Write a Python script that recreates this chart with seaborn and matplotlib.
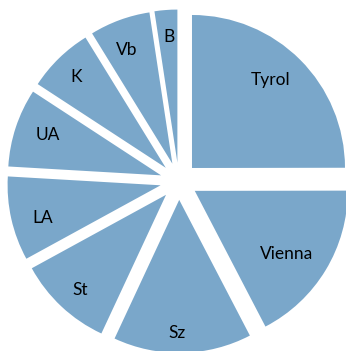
import numpy as np
import matplotlib
matplotlib.use('Agg')
import matplotlib.pyplot as plt
import seaborn as sns

sns.set_theme(style='white')
plt.rcParams['font.family'] = ['Lato', 'DejaVu Sans']

# share per region (percent), clockwise from 12 o'clock
regions = ['Tyrol', 'Vienna', 'Sz', 'St', 'LA', 'UA', 'K', 'Vb', 'B']
shares = [25.0, 17.4, 14.6, 10.1, 8.9, 8.3, 7.0, 6.4, 2.4]

blue = '#7aa7ca'
# label placement inside each slice: fraction of radius, clockwise turn (deg)
label_dist = [0.78, 0.72, 0.86, 0.83, 0.80, 0.79, 0.84, 0.81, 0.83]
label_turn = [-3.8, 2.8, 2.3, -0.9, -2.1, 1.8, 0.0, -1.4, 0.3]

fig = plt.figure(figsize=(3.46, 3.51), dpi=100)
ax = fig.add_axes([0, 0, 1, 1])

wedges, _ = ax.pie(
    shares,
    colors=[blue] * len(shares),
    explode=[0.122] * len(shares),
    startangle=90,
    counterclock=False,
    wedgeprops=dict(linewidth=0),
)

for w, name, d, turn in zip(wedges, regions, label_dist, label_turn):
    ang = np.deg2rad((w.theta1 + w.theta2) / 2 - turn)
    cx, cy = w.center
    ax.text(cx + d * np.cos(ang), cy + d * np.sin(ang), name,
            ha='center', va='center_baseline', fontsize=12.5, color='black')

ax.set_xlim(-1.1686, 1.0928)
ax.set_ylim(-1.1098, 1.1843)
ax.set_aspect('auto')
ax.axis('off')

fig.savefig('out.png', dpi=100)
